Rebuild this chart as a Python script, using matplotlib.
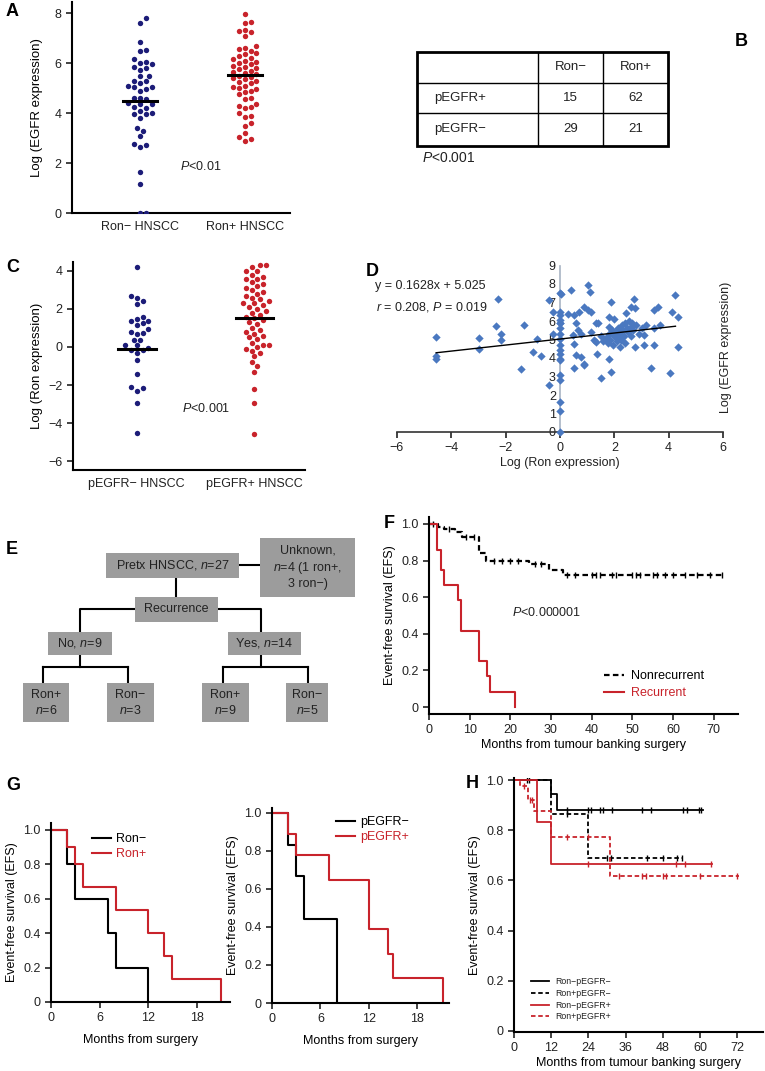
import numpy as np
import matplotlib
matplotlib.use('Agg')
import matplotlib.pyplot as plt
from matplotlib.patches import Rectangle

plt.rcParams['font.family'] = ['Liberation Sans', 'DejaVu Sans']
plt.rcParams['mathtext.fontset'] = 'custom'
plt.rcParams['mathtext.rm'] = 'Liberation Sans'
plt.rcParams['mathtext.it'] = 'Liberation Sans:italic'
plt.rcParams['font.size'] = 9
plt.rcParams['axes.linewidth'] = 1.5
plt.rcParams['xtick.major.width'] = 1.2
plt.rcParams['ytick.major.width'] = 1.2
plt.rcParams['text.color'] = '#222222'
plt.rcParams['xtick.color'] = '#222222'
plt.rcParams['ytick.color'] = '#222222'

NAVY = '#1c1c78'
RED = '#c8232b'

# ---------------- data ----------------
# A: log EGFR expression by Ron status
egfr_ron_neg = [7.8, 7.6, 6.85, 6.53, 6.5, 6.15, 6.05, 6.02, 5.95, 5.85, 5.8, 5.73,
                5.5, 5.49, 5.3, 5.29, 5.2, 5.1, 5.06, 5.06, 4.95, 4.9, 4.62, 4.6,
                4.55, 4.4, 4.38, 4.35, 4.25, 4.2, 4.1, 4.0, 3.95, 3.95, 3.8, 3.4,
                3.3, 3.08, 2.77, 2.74, 2.63, 1.63, 1.18, 0.0, 0.0]
egfr_ron_pos = [7.97, 7.66, 7.6, 7.34, 7.3, 7.23, 7.1, 6.7, 6.6, 6.55, 6.5, 6.4,
                6.35, 6.3, 6.2, 6.15, 6.1, 6.05, 6.0, 5.95, 5.9, 5.85, 5.8, 5.75,
                5.7, 5.65, 5.6, 5.55, 5.5, 5.45, 5.4, 5.35, 5.3, 5.25, 5.2, 5.1,
                5.05, 5.0, 4.95, 4.9, 4.85, 4.75, 4.6, 4.55, 4.35, 4.3, 4.25, 4.2,
                4.0, 3.9, 3.85, 3.6, 3.5, 3.2, 3.05, 2.95, 2.9]
groups_a = ['Ron\u2212 HNSCC', 'Ron+ HNSCC']
mid_a = [4.5, 5.52]

# B: contingency table
table_cols = ['', 'Ron\u2212', 'Ron+']
table_rows = ['pEGFR+', 'pEGFR\u2212']
table_vals = [[15, 62], [29, 21]]

# C: log Ron expression by pEGFR status
ron_pegfr_neg = [4.2, 2.69, 2.6, 2.4, 2.25, 1.6, 1.49, 1.36, 1.36, 1.27, 1.15, 0.92,
                 0.8, 0.74, 0.69, 0.39, 0.39, 0.12, 0.12, -0.05, -0.14, -0.14,
                 -0.32, -0.67, -1.43, -2.14, -2.12, -2.32, -2.97, -4.53]
ron_pegfr_pos = [4.3, 4.3, 4.2, 4.0, 4.0, 3.8, 3.7, 3.6, 3.6, 3.4, 3.3, 3.2, 3.1,
                 3.0, 2.9, 2.8, 2.7, 2.6, 2.5, 2.4, 2.3, 2.3, 2.2, 2.1, 2.0, 1.9,
                 1.8, 1.7, 1.6, 1.5, 1.4, 1.3, 1.2, 1.0, 0.9, 0.8, 0.7, 0.6, 0.5,
                 0.4, 0.2, 0.1, 0.1, 0.0, -0.1, -0.2, -0.3, -0.5, -0.8, -1.0, -1.3,
                 -2.23, -2.94, -4.57]
groups_c = ['pEGFR\u2212 HNSCC', 'pEGFR+ HNSCC']
mid_c = [-0.1, 1.5]

# D: correlation
ron_log = [-4.56, -4.56, -4.56, -2.97, -2.97, -2.29, -2.35, -2.17, -2.17, -1.31,
           -1.43, -0.98, -0.86, -0.70, -0.39, -0.39, -0.25, -0.25, 0, 0.05,
           0, 0, 0, 0, 0, 0, 0, 0, 0, 0, 0, 0, 0, 0, 0, 0, 0, 0,
           0.4, 0.3, 0.53, 0.71, 0.59, 0.65, 0.77, 0.47, 0.53, 0.59, 0.77, 0.53,
           0.87, 0.87, 0.87, 1.02, 1.12, 1.02, 1.14, 1.14, 1.26, 1.32, 1.39, 1.38,
           1.51, 1.32, 1.88, 1.81, 1.81, 1.81, 1.88, 2.43, 2.73, 2.6, 2.77, 3.16,
           3.1, 3.1, 3.47, 3.35, 3.47, 3.62, 3.69, 3.47, 4.06, 4.14, 4.24, 4.33,
           4.36, 1.5, 1.6, 1.7, 1.75, 1.8, 1.85, 1.9, 1.95, 2.0, 2.05, 2.1, 2.1,
           2.15, 2.2, 2.25, 2.3, 2.3, 2.35, 2.4, 2.4, 2.45, 2.5, 2.55, 2.6, 2.6,
           2.65, 2.7, 2.75, 2.8, 2.9, 3.0, 2.2, 2.0]
egfr_log = [5.14, 4.1, 3.93, 5.1, 4.5, 7.18, 5.72, 5.29, 5.0, 5.78,
            3.38, 4.33, 5.05, 4.1, 2.53, 7.13, 6.5, 5.32, 7.5, 7.45,
            6.5, 6.3, 6.05, 5.87, 5.6, 5.32, 5.05, 4.7, 4.42, 4.24, 3.97, 3.88,
            3.07, 2.8, 1.62, 1.14, 0.0, 5.9,
            7.67, 6.4, 6.32, 6.46, 5.87, 5.5, 5.32, 5.23, 4.78, 4.15, 4.06, 3.48,
            3.6, 3.7, 6.77, 7.94, 7.58, 6.62, 6.46, 5.42, 4.96, 5.87, 5.9, 4.24,
            2.94, 4.87, 7.04, 6.23, 5.69, 3.92, 3.25, 6.41, 7.17, 6.77, 6.68, 5.78,
            5.23, 4.69, 4.69, 3.48, 6.62, 6.73, 5.81, 5.6, 3.19, 6.5, 7.4, 6.23,
            4.6, 5.2, 4.9, 5.1, 4.8, 5.3, 5.0, 5.5, 4.7, 5.2, 5.4, 4.9, 5.1,
            5.6, 5.3, 5.0, 5.8, 5.5, 5.2, 4.8, 5.9, 5.6, 5.4, 6.0, 5.7, 5.2,
            5.9, 5.5, 4.6, 5.8, 5.3, 5.6, 4.6, 6.1]
fit_slope, fit_icpt = 0.1628, 5.025

# E: flow chart labels
flow_labels = {
    'pretx': 'Pretx HNSCC, $n$=27',
    'unknown': 'Unknown,\n$n$=4 (1 ron+,\n3 ron\u2212)',
    'recur': 'Recurrence',
    'no': 'No, $n$=9',
    'yes': 'Yes, $n$=14',
    'no_pos': 'Ron+\n$n$=6',
    'no_neg': 'Ron\u2212\n$n$=3',
    'yes_pos': 'Ron+\n$n$=9',
    'yes_neg': 'Ron\u2212\n$n$=5',
}

# F: EFS by recurrence
nonrec_t = [0, 2.2, 3.8, 6.5, 8, 12.3, 14, 24.5, 29.5, 33, 72.5]
nonrec_s = [1.0, 0.985, 0.97, 0.955, 0.93, 0.84, 0.80, 0.78, 0.75, 0.72, 0.72]
nonrec_cens = [1, 5, 9, 11, 16, 18, 20, 22, 26, 27.5, 34, 36, 40, 41, 42, 45, 46,
               50, 51, 52, 55, 56, 58, 60, 63, 66, 69, 72]
rec_t = [0, 2, 3, 3.8, 7.1, 7.9, 12.2, 14.2, 15, 21.2]
rec_s = [1.0, 0.86, 0.75, 0.667, 0.583, 0.417, 0.25, 0.167, 0.083, 0.0]

# G: EFS in recurrent patients
ronneg_t = [0, 2, 3, 7, 8, 12]
ronneg_s = [1.0, 0.8, 0.6, 0.4, 0.2, 0.0]
ronpos_t = [0, 2, 3, 4, 8, 12, 14, 15, 21]
ronpos_s = [1.0, 0.9, 0.8, 0.667, 0.533, 0.4, 0.267, 0.133, 0.0]
pneg_t = [0, 2, 3, 4, 8]
pneg_s = [1.0, 0.833, 0.667, 0.444, 0.0]
ppos_t = [0, 2, 3, 7, 12, 14.3, 15, 21.1]
ppos_s = [1.0, 0.889, 0.778, 0.648, 0.389, 0.259, 0.13, 0.0]

# H: EFS by Ron/pEGFR combination
h_labels = ['Ron\u2212pEGFR\u2212', 'Ron+pEGFR\u2212', 'Ron\u2212pEGFR+', 'Ron+pEGFR+']
h_t = [[0, 12, 13.8, 60.8],
       [0, 12, 24, 54.5],
       [0, 7.5, 12, 63.8],
       [0, 2, 4.5, 6.5, 12, 31, 72.4]]
h_s = [[1.0, 0.944, 0.88, 0.88],
       [1.0, 0.864, 0.69, 0.69],
       [1.0, 0.833, 0.667, 0.667],
       [1.0, 0.977, 0.92, 0.877, 0.773, 0.617, 0.617]]
h_cens = [[4.2, 4.8, 17, 24, 24.8, 27.7, 28.8, 31.5, 41.4, 44.2, 54.6, 55.7, 59.5, 60.3],
          [17, 29.9, 31.3, 42.8, 48, 52.5, 54.3],
          [24, 52.3, 55.2, 63.5],
          [3.3, 5, 5.8, 17, 24, 34, 41.4, 42.5, 48, 49, 60, 72]]

# ---------------- helpers ----------------
W, H = 765, 1071
fig = plt.figure(figsize=(W / 100, H / 100), dpi=100)


def box(x0, y0, x1, y1):
    # pixel box, origin top-left -> figure fraction rect
    return [x0 / W, 1 - y1 / H, (x1 - x0) / W, (y1 - y0) / H]


def ftext(x, y, s, **kw):
    kw.setdefault('va', 'center')
    return fig.text(x / W, 1 - y / H, s, **kw)


def letter(x, y, s):
    ftext(x, y, s, fontsize=13, fontweight='bold', color='black')


def swarm(vals, ppu_y, ppu_x, d=5.8):
    vals = np.asarray(vals, float)
    xs = np.zeros(len(vals))
    done = []
    for i in np.argsort(vals):
        y = vals[i] * ppu_y
        k = 0
        while True:
            off = ((k + 1) // 2) * (d / 2) * (1 if k % 2 else -1)
            if all(np.hypot(off - px, y - py) >= d for px, py in done):
                break
            k += 1
        done.append((off, y))
        xs[i] = off / ppu_x
    return xs


def clean(ax):
    ax.spines['top'].set_visible(False)
    ax.spines['right'].set_visible(False)
    ax.tick_params(direction='out', length=4, labelsize=9)


def km(ax, t, s, cens=None, **kw):
    ax.step(t, s, where='post', **kw)
    if cens:
        idx = np.searchsorted(t, cens, side='right') - 1
        ax.plot(cens, np.asarray(s)[idx], ls='none', marker='|', ms=5, mew=1,
                color=kw.get('color'))


def dot_panel(ax, groups_vals, colors, mids, ppu_y, ppu_x):
    for i, (v, c) in enumerate(zip(groups_vals, colors)):
        xs = swarm(v, ppu_y, ppu_x) + i + 1
        ax.scatter(xs, v, s=15, color=c, linewidths=0, zorder=3)
        ax.plot([i + 1 - 0.16, i + 1 + 0.16], [mids[i], mids[i]], color='black',
                lw=2.2, zorder=4)


EFS_TICKS = [0, 0.2, 0.4, 0.6, 0.8, 1.0]
EFS_LABELS = ['0', '0.2', '0.4', '0.6', '0.8', '1.0']

# ---------------- A ----------------
axA = fig.add_axes(box(72, 2, 290, 213))
dot_panel(axA, [egfr_ron_neg, egfr_ron_pos], [NAVY, RED], mid_a, 25, 105)
axA.set_xlim(0.352, 2.43)
axA.set_ylim(0, 8.45)
axA.set_yticks([0, 2, 4, 6, 8])
axA.set_xticks([1, 2])
axA.set_xticklabels(groups_a)
clean(axA)
axA.tick_params(axis='x', length=0, pad=6)
axA.set_ylabel('Log (EGFR expression)', fontsize=9.5, labelpad=8)
ftext(180, 167, '$P$<0.01', fontsize=9)
letter(6, 12, 'A')

# ---------------- B ----------------
axB = fig.add_axes(box(417, 52, 668, 146))
axB.set_xlim(417, 668)
axB.set_ylim(146, 52)
axB.axis('off')
cx = [417, 538, 603, 668]
ry = [52, 83, 113, 146]
for x in cx[1:-1]:
    axB.plot([x, x], [ry[0], ry[-1]], color='black', lw=1)
for y in ry[1:-1]:
    axB.plot([cx[0], cx[-1]], [y, y], color='black', lw=1)
axB.add_patch(Rectangle((cx[0], ry[0]), cx[-1] - cx[0], ry[-1] - ry[0],
                        fill=False, lw=2, ec='black', clip_on=False))
for j, lab in enumerate(table_cols):
    axB.text((cx[j] + cx[j + 1]) / 2, (ry[0] + ry[1]) / 2, lab, ha='center',
             va='center', fontsize=9.5)
for i, lab in enumerate(table_rows):
    yc = (ry[i + 1] + ry[i + 2]) / 2
    axB.text(cx[0] + 17, yc, lab, ha='left', va='center', fontsize=9.5)
    for j, v in enumerate(table_vals[i]):
        axB.text((cx[j + 1] + cx[j + 2]) / 2, yc, str(v), ha='center',
                 va='center', fontsize=9.5)
ftext(422, 158, '$P$<0.001', fontsize=10)
letter(735, 42, 'B')

# ---------------- C ----------------
axC = fig.add_axes(box(73, 262, 305, 470))
dot_panel(axC, [ron_pegfr_neg, ron_pegfr_pos], [NAVY, RED], mid_c, 19, 118)
axC.set_xlim(0.458, 2.43)
axC.set_ylim(-6.47, 4.47)
axC.set_yticks([-6, -4, -2, 0, 2, 4])
axC.set_yticklabels(['\u22126', '\u22124', '\u22122', '0', '2', '4'])
axC.set_xticks([1, 2])
axC.set_xticklabels(groups_c)
clean(axC)
axC.tick_params(axis='x', length=0, pad=6)
axC.set_ylabel('Log (Ron expression)', fontsize=9.5, labelpad=4)
ftext(182, 409, '$P$<0.001', fontsize=9)
letter(6, 268, 'C')

# ---------------- D ----------------
axD = fig.add_axes(box(397, 265.5, 723, 432))
axD.scatter(ron_log, egfr_log, marker='D', s=18, color='#4a78c0', linewidths=0,
            zorder=3, clip_on=False)
xx = np.array([min(ron_log), 4.25])
axD.plot(xx, fit_slope * xx + fit_icpt, color='black', lw=1, zorder=4)
axD.set_xlim(-6, 6)
axD.set_ylim(0, 9)
axD.spines['left'].set_position(('data', 0))
axD.spines['left'].set_color('#a8b4c4')
axD.spines['left'].set_linewidth(1.2)
axD.spines['bottom'].set_color('#333333')
axD.spines['bottom'].set_linewidth(1.2)
axD.spines['top'].set_visible(False)
axD.spines['right'].set_visible(False)
axD.set_xticks(range(-6, 7, 2))
axD.set_xticklabels(['\u22126', '\u22124', '\u22122', '0', '2', '4', '6'])
axD.set_yticks(range(0, 10))
axD.tick_params(axis='x', direction='out', length=4, labelsize=9)
axD.tick_params(axis='y', direction='out', length=0, pad=3, labelsize=9)
ftext(560, 463, 'Log (Ron expression)', ha='center', fontsize=9)
ftext(726, 347, 'Log (EGFR expression)', ha='center', rotation=90, fontsize=9)
ftext(375, 286, 'y = 0.1628x + 5.025', fontsize=9)
ftext(376, 307, '$r$ = 0.208, $P$ = 0.019', fontsize=9)
letter(366, 271, 'D')

# ---------------- E ----------------
axE = fig.add_axes(box(0, 530, 365, 730))
axE.set_xlim(0, 365)
axE.set_ylim(730, 530)
axE.axis('off')
nodes = {
    'pretx': (106, 553, 239, 578), 'unknown': (260, 538, 355, 597),
    'recur': (135, 597, 218, 622), 'no': (48, 632, 112, 655),
    'yes': (228, 632, 301, 655), 'no_pos': (23, 683, 69, 722),
    'no_neg': (107, 683, 154, 722), 'yes_pos': (202, 683, 249, 722),
    'yes_neg': (286, 683, 328, 722),
}
links = [
    ([239, 260], [565, 565]), ([176, 176], [578, 597]),
    ([135, 80, 80], [609, 609, 632]), ([218, 261, 261], [609, 609, 632]),
    ([80, 80], [655, 667]), ([43, 128], [667, 667]),
    ([43, 43], [667, 683]), ([128, 128], [667, 683]),
    ([261, 261], [655, 667]), ([223, 308], [667, 667]),
    ([223, 223], [667, 683]), ([308, 308], [667, 683]),
]
for xs, ys in links:
    axE.plot(xs, ys, color='black', lw=1.5, zorder=1)
for key, (x0, y0, x1, y1) in nodes.items():
    axE.add_patch(Rectangle((x0, y0), x1 - x0, y1 - y0, fc='#9c9c9c', ec='none',
                            zorder=2))
    axE.text((x0 + x1) / 2, (y0 + y1) / 2, flow_labels[key], ha='center',
             va='center', fontsize=9, linespacing=1.3, zorder=3)
letter(6, 550, 'E')

# ---------------- F ----------------
axF = fig.add_axes(box(429, 517, 738, 714))
km(axF, nonrec_t, nonrec_s, nonrec_cens, color='black', lw=1.6,
   ls=(0, (2.5, 1.5)), label='Nonrecurrent')
km(axF, rec_t, rec_s, color=RED, lw=1.5, label='Recurrent')
axF.set_xlim(0, 76)
axF.set_ylim(-0.038, 1.038)
axF.set_xticks(range(0, 71, 10))
axF.set_yticks(EFS_TICKS)
axF.set_yticklabels(EFS_LABELS)
clean(axF)
axF.set_xlabel('Months from tumour banking surgery', fontsize=9, labelpad=2)
axF.set_ylabel('Event-free survival (EFS)', fontsize=9)
axF.legend(loc='upper left', bbox_to_anchor=(598 / W, 1 - 664 / H),
           bbox_transform=fig.transFigure, frameon=False, labelcolor='linecolor',
           fontsize=9, handlelength=1.6, handletextpad=0.5, borderpad=0,
           labelspacing=0.4)
ftext(512, 613, '$P$<0.000001', fontsize=9)
letter(384, 523, 'F')

# ---------------- G ----------------
axG1 = fig.add_axes(box(51, 823, 230, 1002))
km(axG1, ronneg_t, ronneg_s, color='black', lw=1.5, label='Ron\u2212')
km(axG1, ronpos_t, ronpos_s, color=RED, lw=1.5, label='Ron+')
axG1.set_xlim(0, 22.1)
axG1.set_ylim(0, 1.04)
axG1.set_xticks([0, 6, 12, 18])
axG1.set_yticks(EFS_TICKS)
axG1.set_yticklabels(EFS_LABELS)
clean(axG1)
axG1.set_xlabel('Months from surgery', fontsize=9, labelpad=7)
axG1.set_ylabel('Event-free survival (EFS)', fontsize=9)
axG1.legend(loc='upper left', bbox_to_anchor=(86 / W, 1 - 827 / H),
            bbox_transform=fig.transFigure, frameon=False, labelcolor='linecolor',
            fontsize=9, handlelength=1.5, handletextpad=0.4, borderpad=0,
            labelspacing=0.25)

axG2 = fig.add_axes(box(272, 808, 449, 1003))
km(axG2, pneg_t, pneg_s, color='black', lw=1.5, label='pEGFR\u2212')
km(axG2, ppos_t, ppos_s, color=RED, lw=1.5, label='pEGFR+')
axG2.set_xlim(0, 21.9)
axG2.set_ylim(0, 1.026)
axG2.set_xticks([0, 6, 12, 18])
axG2.set_yticks(EFS_TICKS)
axG2.set_yticklabels(EFS_LABELS)
clean(axG2)
axG2.set_xlabel('Months from surgery', fontsize=9, labelpad=7)
axG2.set_ylabel('Event-free survival (EFS)', fontsize=9)
axG2.legend(loc='upper left', bbox_to_anchor=(330 / W, 1 - 810 / H),
            bbox_transform=fig.transFigure, frameon=False, labelcolor='linecolor',
            fontsize=9, handlelength=1.5, handletextpad=0.4, borderpad=0,
            labelspacing=0.25)
letter(6, 785, 'G')

# ---------------- H ----------------
axH = fig.add_axes(box(514, 778, 763, 1032))
h_styles = [dict(color='black', ls='-'), dict(color='black', ls=(0, (2.5, 1.5))),
            dict(color=RED, ls='-'), dict(color=RED, ls=(0, (2.5, 1.5)))]
for t, s, c, lab, st in zip(h_t, h_s, h_cens, h_labels, h_styles):
    km(axH, t, s, c, lw=1.3, label=lab, **st)
axH.set_xlim(0, 80.3)
axH.set_ylim(-0.004, 1.008)
axH.set_xticks(range(0, 73, 12))
axH.set_yticks(EFS_TICKS)
axH.set_yticklabels(EFS_LABELS)
clean(axH)
axH.set_xlabel('Months from tumour banking surgery', fontsize=9, labelpad=2)
axH.set_ylabel('Event-free survival (EFS)', fontsize=9)
axH.legend(loc='upper left', bbox_to_anchor=(527 / W, 1 - 973 / H),
           bbox_transform=fig.transFigure, frameon=False, fontsize=6.3,
           handlelength=2.0, handletextpad=0.7, borderpad=0, labelspacing=0.3)
letter(466, 783, 'H')

fig.savefig('out.png', dpi=100)
